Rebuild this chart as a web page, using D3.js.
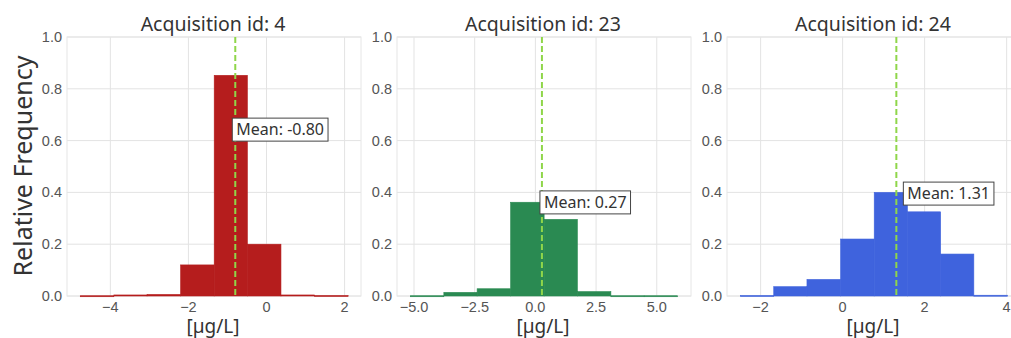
<!DOCTYPE html>
<html>
<head>
<meta charset="utf-8">
<script src="https://cdn.jsdelivr.net/npm/d3@7"></script>
<style>
  body { margin: 0; background: #fff; }
  svg { display: block; }
</style>
</head>
<body>
<script>
// Panel titles and means
var titles = ["Acquisition id: 4", "Acquisition id: 23", "Acquisition id: 24"];
var means = [-0.80, 0.27, 1.31];

// Histogram bin edges and relative frequencies
var edges4 = [-4.77, -3.91, -3.06, -2.20, -1.34, -0.49, 0.37, 1.23, 2.09];
var freq4 = [0.001, 0.004, 0.006, 0.12, 0.852, 0.20, 0.004, 0.002];
var edges23 = [-5.15, -3.77, -2.40, -1.02, 0.36, 1.73, 3.11, 4.48, 5.86];
var freq23 = [0.001, 0.014, 0.028, 0.362, 0.296, 0.017, 0.001, 0.001];
var edges24 = [-2.49, -1.68, -0.87, -0.05, 0.77, 1.58, 2.39, 3.20, 4.02];
var freq24 = [0.002, 0.036, 0.064, 0.22, 0.40, 0.325, 0.162, 0.003];

// Tick values
var xTicks4 = [-4, -2, 0, 2];
var xTicks23 = [-5, -2.5, 0, 2.5, 5];
var xTicks24 = [-2, 0, 2, 4];
var yTicks = [0, 0.2, 0.4, 0.6, 0.8, 1.0];

var panels = [
  { edges: edges4, freq: freq4, ticks: xTicks4, fmt: d3.format(".0f"), domain: [-5.11, 2.42], color: "#b51d1d", labelY: 0.598, labelDx: -3, left: 67 },
  { edges: edges23, freq: freq23, ticks: xTicks23, fmt: d3.format(".1f"), domain: [-5.70, 6.41], color: "#2a8a52", labelY: 0.317, labelDx: -2, left: 397 },
  { edges: edges24, freq: freq24, ticks: xTicks24, fmt: d3.format(".0f"), domain: [-2.82, 4.35], color: "#3f63dd", labelY: 0.351, labelDx: 7, left: 727 }
];

var w = 1011, h = 338;
var pw = 294, plotTop = 37, plotBottom = 296;

var svg = d3.select("body").append("svg")
  .attr("width", w)
  .attr("height", h);

var yScale = d3.scaleLinear().domain([0, 1]).range([plotBottom, plotTop]);

panels.forEach(function(p, k) {
  var xScale = d3.scaleLinear().domain(p.domain).range([p.left, p.left + pw]);
  var g = svg.append("g");

  // grid lines
  g.selectAll(".hgrid").data(yTicks).enter().append("line")
    .attr("x1", p.left).attr("x2", p.left + pw)
    .attr("y1", function(d) { return yScale(d); })
    .attr("y2", function(d) { return yScale(d); })
    .attr("stroke", "#e3e3e3").attr("stroke-width", 1);
  g.selectAll(".vgrid").data(p.ticks).enter().append("line")
    .attr("x1", function(d) { return xScale(d); })
    .attr("x2", function(d) { return xScale(d); })
    .attr("y1", plotTop).attr("y2", plotBottom)
    .attr("stroke", "#e3e3e3").attr("stroke-width", 1);

  // frame
  g.append("rect")
    .attr("x", p.left).attr("y", plotTop)
    .attr("width", pw).attr("height", plotBottom - plotTop)
    .attr("fill", "none").attr("stroke", "#e6e6e6");

  // bars
  g.selectAll(".bar").data(p.freq).enter().append("rect")
    .attr("x", function(d, i) { return xScale(p.edges[i]); })
    .attr("width", function(d, i) { return xScale(p.edges[i + 1]) - xScale(p.edges[i]); })
    .attr("y", function(d) { return yScale(d); })
    .attr("height", function(d) { return Math.max(1, plotBottom - yScale(d)); })
    .attr("fill", p.color)
    .attr("stroke", p.color).attr("stroke-width", 0.6);

  // mean line
  g.append("line")
    .attr("x1", xScale(means[k])).attr("x2", xScale(means[k]))
    .attr("y1", plotTop).attr("y2", plotBottom)
    .attr("stroke", "#8fd64a").attr("stroke-width", 2)
    .attr("stroke-dasharray", "6,3");

  // mean label
  var label = g.append("g")
    .attr("transform", "translate(" + (xScale(means[k]) + p.labelDx) + "," + yScale(p.labelY) + ")");
  var txt = label.append("text")
    .attr("x", 4).attr("y", -6)
    .attr("font-family", "Noto Sans, sans-serif")
    .attr("font-size", 16)
    .attr("fill", "#333")
    .text("Mean: " + d3.format(".2f")(means[k]).replace("−", "-"));
  var bb = txt.node().getBBox();
  label.insert("rect", "text")
    .attr("x", 0).attr("y", -23)
    .attr("width", bb.width + 8).attr("height", 23)
    .attr("fill", "#fff").attr("stroke", "#444").attr("stroke-width", 1);

  // x tick labels
  g.selectAll(".xt").data(p.ticks).enter().append("text")
    .attr("x", function(d) { return xScale(d); })
    .attr("y", 312)
    .attr("text-anchor", "middle")
    .attr("font-family", "Liberation Sans, Arial, sans-serif")
    .attr("font-size", 14.5)
    .attr("fill", "#555")
    .text(function(d) { return p.fmt(d); });

  // y tick labels
  g.selectAll(".yt").data(yTicks).enter().append("text")
    .attr("x", p.left - 5)
    .attr("y", function(d) { return yScale(d) + 5; })
    .attr("text-anchor", "end")
    .attr("font-family", "Liberation Sans, Arial, sans-serif")
    .attr("font-size", 14.5)
    .attr("fill", "#555")
    .text(function(d) { return d3.format(".1f")(d); });

  // title
  g.append("text")
    .attr("x", p.left + pw / 2 - 1).attr("y", 31)
    .attr("text-anchor", "middle")
    .attr("font-family", "Noto Sans, sans-serif")
    .attr("font-size", 19.5)
    .attr("fill", "#333")
    .text(titles[k]);

  // x axis label
  g.append("text")
    .attr("x", p.left + pw / 2 - 1).attr("y", 333)
    .attr("text-anchor", "middle")
    .attr("font-family", "Noto Sans, sans-serif")
    .attr("font-size", 19)
    .attr("fill", "#333")
    .text("[µg/L]");
});

// y axis label
svg.append("text")
  .attr("transform", "translate(32,166) rotate(-90)")
  .attr("text-anchor", "middle")
  .attr("font-family", "Noto Sans, sans-serif")
  .attr("font-size", 25)
  .attr("fill", "#333")
  .text("Relative Frequency");
</script>
</body>
</html>
